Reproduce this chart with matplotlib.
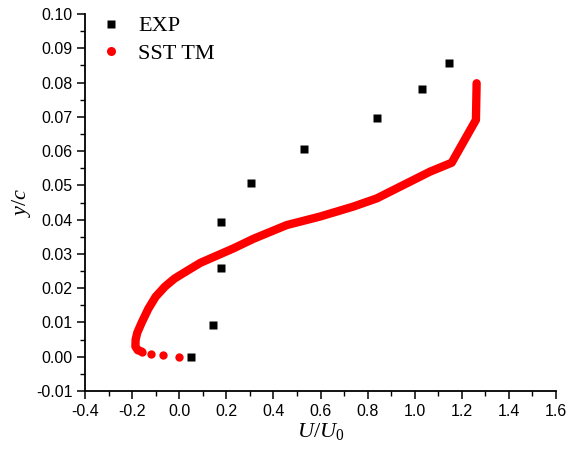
import matplotlib
matplotlib.use("Agg")
import matplotlib.pyplot as plt
from matplotlib.ticker import MultipleLocator, FormatStrFormatter

plt.rcParams['mathtext.fontset'] = 'custom'
plt.rcParams['mathtext.it'] = 'Liberation Serif:italic'
plt.rcParams['mathtext.rm'] = 'Liberation Serif'

# Experimental data
exp_x = [0.048, 0.144, 0.178, 0.178, 0.305, 0.530, 0.840, 1.031, 1.146]
exp_y = [0.0000, 0.0092, 0.0259, 0.0394, 0.0507, 0.0606, 0.0697, 0.0781, 0.0857]

# SST TM simulation (sparse near-wall points, then dense profile)
sst_sparse_x = [0.000, -0.070, -0.120, -0.159]
sst_sparse_y = [0.0000, 0.0004, 0.0008, 0.0015]
sst_x = [-0.159, -0.176, -0.186, -0.185, -0.178, -0.159, -0.131, -0.100, -0.060,
         -0.020, 0.032, 0.090, 0.150, 0.230, 0.315, 0.456, 0.598, 0.739,
         0.839, 0.952, 1.065, 1.157, 1.260, 1.263]
sst_y = [0.0015, 0.0019, 0.0030, 0.0050, 0.0070, 0.0100, 0.0140, 0.0175, 0.0205,
         0.0228, 0.0250, 0.0274, 0.0292, 0.0316, 0.0344, 0.0384, 0.0409, 0.0438,
         0.0462, 0.0501, 0.0540, 0.0566, 0.0691, 0.0798]

W, H = 578, 454
fig = plt.figure(figsize=(W / 100, H / 100), dpi=100)
ax = fig.add_axes([85 / W, 1 - 391 / H, (556 - 85) / W, (391 - 14) / H])

red = '#ff0000'
ax.plot(sst_x, sst_y, '-', color=red, lw=6, solid_capstyle='round',
        solid_joinstyle='round', zorder=2)
ax.plot(sst_sparse_x, sst_sparse_y, 'o', color=red, ms=6, mec='none', zorder=2)
ax.plot(exp_x, exp_y, 's', color='black', ms=5.5, mec='none', zorder=3)

# legend proxies
h1, = ax.plot([], [], 's', color='black', ms=5.5, mec='none')
h2, = ax.plot([], [], 'o', color=red, ms=6.5, mec='none')
leg = ax.legend([h1, h2], ['EXP', 'SST TM'], loc='upper left',
                bbox_to_anchor=(0.013, 1.019), frameon=False, borderaxespad=0,
                handlelength=1.0, handletextpad=0.72, labelspacing=0.3,
                prop={'family': 'Liberation Serif', 'size': 16})

ax.set_xlim(-0.4, 1.6)
ax.set_ylim(-0.01, 0.10)
ax.xaxis.set_major_locator(MultipleLocator(0.2))
ax.xaxis.set_minor_locator(MultipleLocator(0.1))
ax.yaxis.set_major_locator(MultipleLocator(0.01))
ax.yaxis.set_minor_locator(MultipleLocator(0.005))
ax.xaxis.set_major_formatter(FormatStrFormatter('%.1f'))
ax.yaxis.set_major_formatter(FormatStrFormatter('%.2f'))

for s in ['top', 'right']:
    ax.spines[s].set_visible(False)
for s in ['left', 'bottom']:
    ax.spines[s].set_linewidth(1.3)

ax.tick_params(which='major', direction='out', length=6, width=1.1,
               labelsize=11.5, pad=3)
ax.tick_params(which='minor', direction='out', length=3.5, width=1.0)
for lab in ax.get_xticklabels() + ax.get_yticklabels():
    lab.set_fontfamily('Liberation Sans')

ax.set_xlabel(r'$U/U_0$', fontsize=16, labelpad=2)
ax.set_ylabel(r'$y/c$', fontsize=16, labelpad=2)

fig.savefig('out.png', dpi=100)
